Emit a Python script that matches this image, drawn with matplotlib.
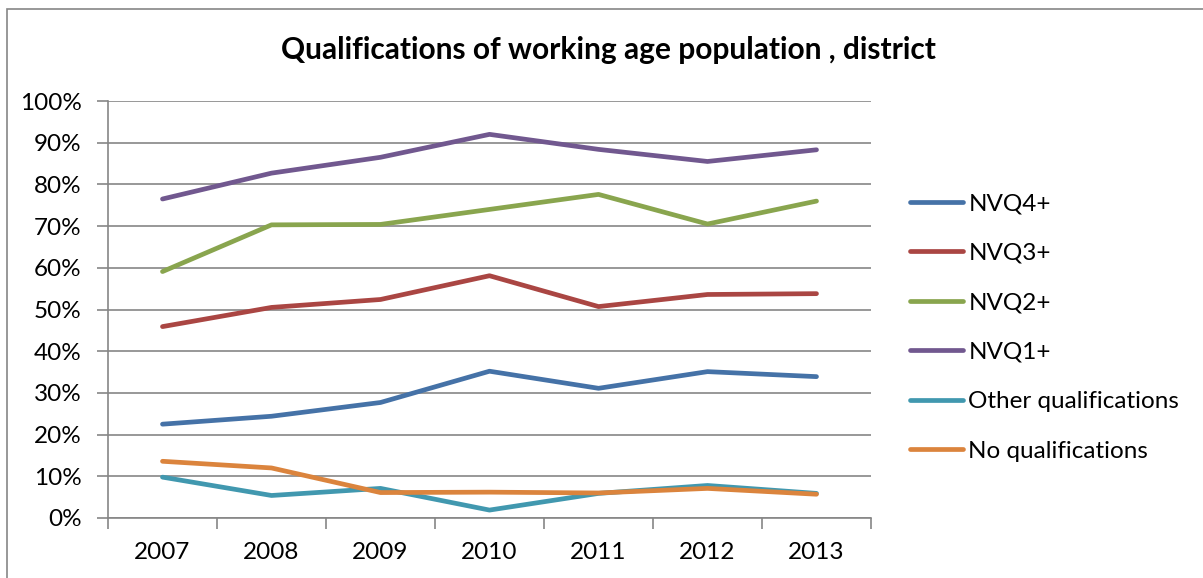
import matplotlib
matplotlib.use('Agg')
import matplotlib.pyplot as plt
from matplotlib.patches import Rectangle

plt.rcParams['font.family'] = ['Lato', 'DejaVu Sans']

# Data
years = ['2007', '2008', '2009', '2010', '2011', '2012', '2013']
nvq4 = [22.5, 24.4, 27.7, 35.2, 31.1, 35.1, 33.9]
nvq3 = [45.9, 50.5, 52.4, 58.1, 50.7, 53.6, 53.8]
nvq2 = [59.1, 70.3, 70.4, 74.0, 77.6, 70.5, 76.0]
nvq1 = [76.5, 82.7, 86.5, 92.0, 88.4, 85.5, 88.3]
other = [9.8, 5.4, 7.1, 1.9, 5.9, 7.8, 5.9]
noqual = [13.6, 12.0, 6.1, 6.2, 6.0, 7.1, 5.7]

labels = ['NVQ4+', 'NVQ3+', 'NVQ2+', 'NVQ1+', 'Other qualifications', 'No qualifications']
series = [nvq4, nvq3, nvq2, nvq1, other, noqual]
colors = ['#4572A7', '#AA4643', '#89A54E', '#71588F', '#4198AF', '#DB843D']

W, H = 1203, 578
fig = plt.figure(figsize=(W / 100, H / 100), dpi=100)
ax = fig.add_axes([108 / W, 1 - 518 / H, (871 - 108) / W, (518 - 101) / H])

# chart border
fig.patches.append(Rectangle((7 / W, -0.1), 1.2, 1 - 9 / H + 0.1, transform=fig.transFigure,
                             fill=False, edgecolor='#868686', linewidth=1.2))

x = list(range(len(years)))
for vals, lab, col in zip(series, labels, colors):
    ax.plot(x, vals, color=col, linewidth=3.4, solid_capstyle='round',
            solid_joinstyle='round', label=lab)

grid_col = '#868686'
ax.set_xlim(-0.5, len(years) - 0.5)
ax.set_ylim(0, 100)
ax.set_yticks(range(0, 101, 10))
ax.set_yticklabels([f'{v}%' for v in range(0, 101, 10)])
ax.yaxis.grid(True, color=grid_col, linewidth=1.2)
ax.set_axisbelow(True)

ax.set_xticks(x)
ax.set_xticklabels(years)
ax.set_xticks([i - 0.5 for i in range(len(years) + 1)], minor=True)
ax.tick_params(axis='x', which='major', length=0, pad=17, labelsize=17.5)
ax.tick_params(axis='x', which='minor', length=8, width=1.2, color=grid_col, direction='out')
ax.tick_params(axis='y', length=8, width=1.2, color=grid_col, direction='out', pad=11, labelsize=17.5)

for s in ['top', 'right']:
    ax.spines[s].set_visible(False)
for s in ['left', 'bottom']:
    ax.spines[s].set_color(grid_col)
    ax.spines[s].set_linewidth(1.2)

fig.text(608 / W, 1 - 50 / H, 'Qualifications of working age population , district',
         ha='center', va='center', fontsize=21.5, fontweight='bold')

leg = ax.legend(loc='center left', bbox_to_anchor=(910 / W, 1 - 327.5 / H),
                bbox_transform=fig.transFigure, frameon=False, fontsize=17.5,
                handlelength=2.2, handletextpad=0.2, labelspacing=1.17,
                borderpad=0, borderaxespad=0)

fig.savefig('out.png', dpi=100)
